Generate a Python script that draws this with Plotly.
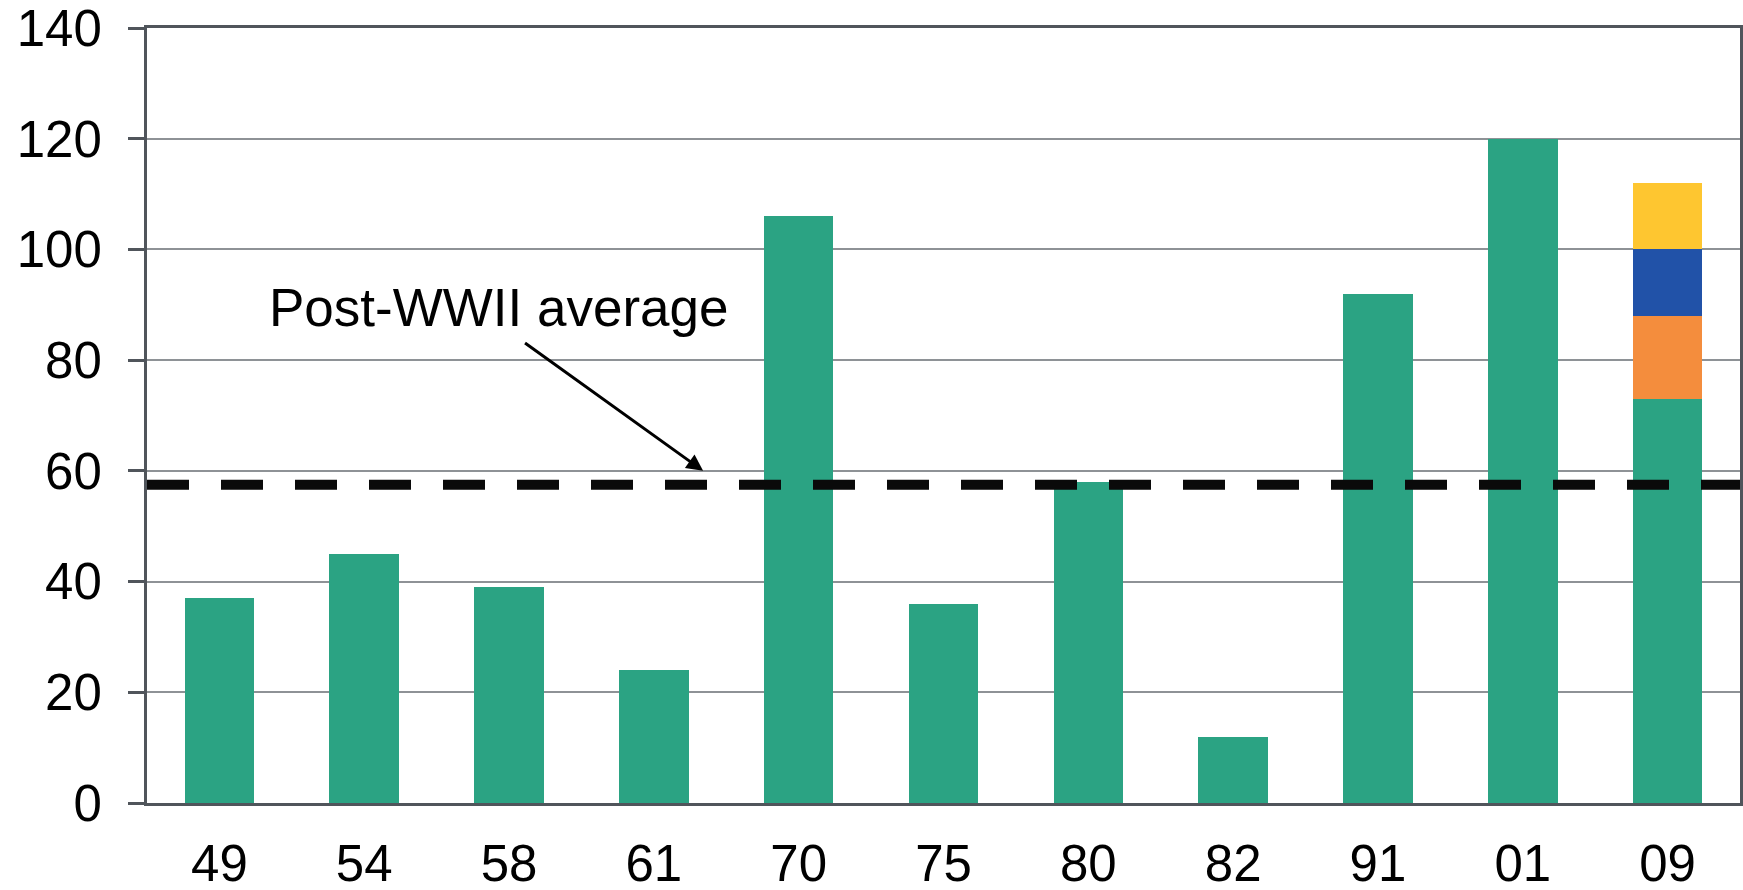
import plotly.graph_objects as go

# Recession years and cumulative values
years = ["49", "54", "58", "61", "70", "75", "80", "82", "91", "01", "09"]
base_values = [37, 45, 39, 24, 106, 36, 58, 12, 92, 120, 73]
extra_orange = [0, 0, 0, 0, 0, 0, 0, 0, 0, 0, 15]
extra_blue = [0, 0, 0, 0, 0, 0, 0, 0, 0, 0, 12]
extra_yellow = [0, 0, 0, 0, 0, 0, 0, 0, 0, 0, 12]
post_wwii_average = 57.5

y_ticks = [0, 20, 40, 60, 80, 100, 120, 140]

positions = list(range(len(years)))
font_family = "Liberation Sans, Arial, sans-serif"
axis_color = "#50555b"
grid_color = "#8e9296"
bar_width = 0.48

fig = go.Figure()

for values, color in [
    (base_values, "#2ba383"),
    (extra_orange, "#f48d3d"),
    (extra_blue, "#2152a8"),
    (extra_yellow, "#fec630"),
]:
    fig.add_trace(go.Bar(
        x=positions,
        y=values,
        width=bar_width,
        marker=dict(color=color, line=dict(width=0)),
        showlegend=False,
        hoverinfo="skip",
    ))

# Dashed average line across the full width
fig.add_trace(go.Scatter(
    x=[-0.5, len(years) - 0.5],
    y=[post_wwii_average, post_wwii_average],
    mode="lines",
    line=dict(color="#0a0a0a", width=10, dash="42px,32px"),
    showlegend=False,
    hoverinfo="skip",
))

fig.add_annotation(
    x=0.33, y=89.5, xref="x", yref="y",
    text="Post-WWII average",
    showarrow=False,
    xanchor="left", yanchor="middle",
    font=dict(family=font_family, size=53, color="#000000"),
)
fig.add_annotation(
    x=3.34, y=60, xref="x", yref="y",
    ax=2.10, ay=83.3, axref="x", ayref="y",
    text="",
    showarrow=True,
    arrowhead=2, arrowsize=1.1, arrowwidth=3,
    arrowcolor="#000000",
)

fig.update_layout(
    width=1743, height=890,
    margin=dict(l=147, r=3, t=28, b=87),
    paper_bgcolor="#ffffff",
    plot_bgcolor="#ffffff",
    barmode="stack",
    font=dict(family=font_family, size=51, color="#000000"),
    xaxis=dict(
        range=[-0.5, len(years) - 0.5],
        tickmode="array",
        tickvals=positions,
        ticktext=years,
        showgrid=False,
        zeroline=False,
        showline=True,
        linecolor=axis_color,
        linewidth=3,
        mirror=True,
        ticks="",
        ticklabelstandoff=14,
        ticklabeloverflow="allow",
        automargin=False,
        tickfont=dict(family=font_family, size=51, color="#000000"),
    ),
    yaxis=dict(
        range=[0, 140],
        tickmode="array",
        tickvals=y_ticks,
        ticktext=[str(v) for v in y_ticks],
        showgrid=True,
        gridcolor=grid_color,
        gridwidth=2,
        zeroline=False,
        showline=True,
        linecolor=axis_color,
        linewidth=3,
        mirror=True,
        ticks="outside",
        ticklen=16,
        tickwidth=3,
        tickcolor=axis_color,
        ticklabelstandoff=16,
        ticklabeloverflow="allow",
        automargin=False,
        tickfont=dict(family=font_family, size=51, color="#000000"),
    ),
)

fig.write_html("out.html")
